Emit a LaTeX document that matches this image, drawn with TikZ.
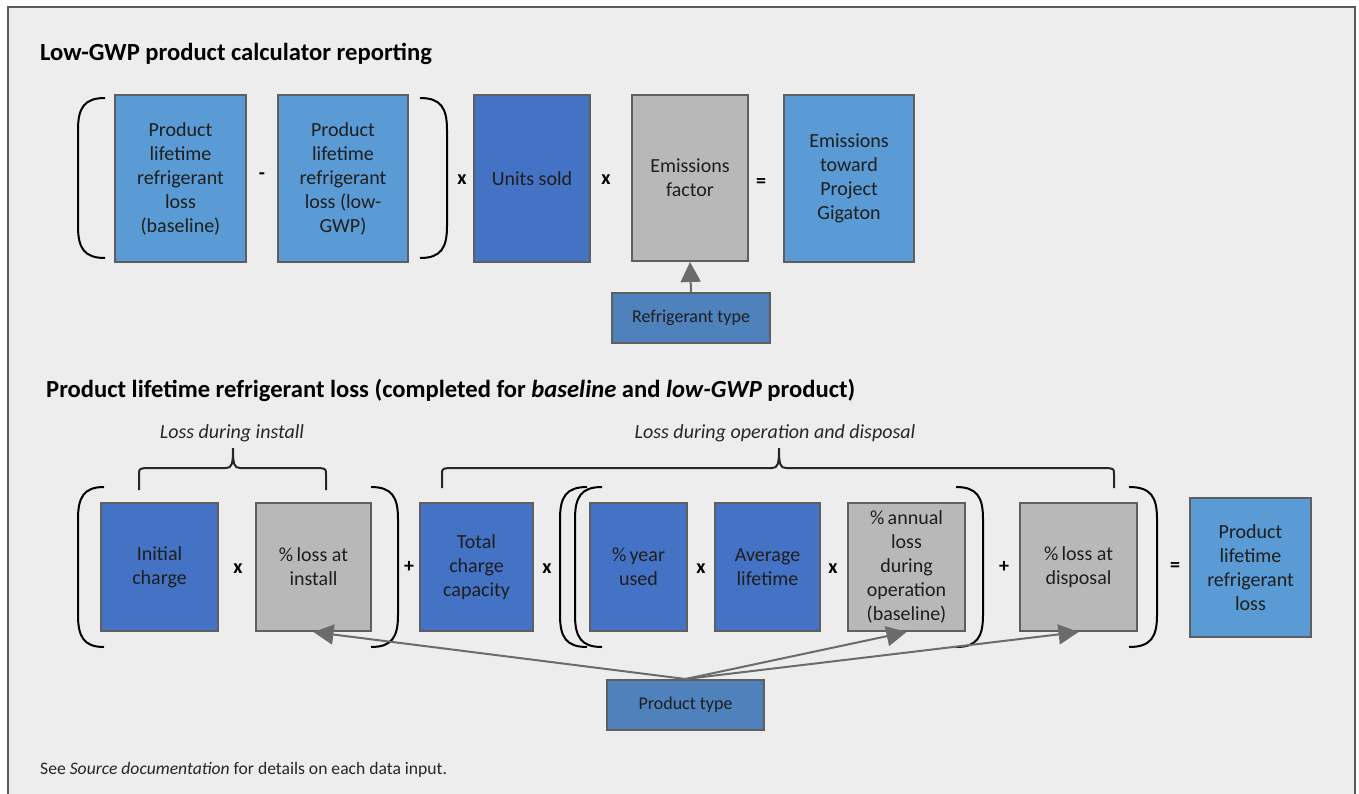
\documentclass[tikz,border=0pt]{standalone}
\usepackage{fontspec}
\setmainfont{Carlito}
\usetikzlibrary{arrows.meta,calc}
\definecolor{frameFill}{HTML}{EDEDED}
\definecolor{frameLine}{HTML}{5A5A5A}
\definecolor{lightBlue}{HTML}{5B9BD5}
\definecolor{darkBlue}{HTML}{4472C4}
\definecolor{midBlue}{HTML}{4F81BD}
\definecolor{boxGray}{HTML}{B8B8B8}
\definecolor{boxLine}{HTML}{5F5F5F}
\definecolor{arrGray}{HTML}{6B6B6B}
\definecolor{txt}{HTML}{1E1E1E}
\tikzset{
  box/.style={draw=boxLine, line width=2pt, align=center, inner sep=0pt, text=txt,
    font=\fontsize{20}{24}\selectfont},
  lb/.style={box, fill=lightBlue},
  db/.style={box, fill=darkBlue},
  gb/.style={box, fill=boxGray},
  ib/.style={box, fill=midBlue, minimum width=157pt, minimum height=50pt,
    font=\fontsize{18}{21}\selectfont},
  op/.style={font=\bfseries\fontsize{20}{24}\selectfont, inner sep=0pt},
  paren/.style={draw=black, line width=2pt},
  brace/.style={draw=black!85, line width=2pt},
  arr/.style={draw=arrGray, line width=2pt, -{Triangle[length=20pt,width=20pt]}},
  ttl/.style={font=\bfseries\fontsize{24.6}{29}\selectfont, anchor=west, inner sep=0pt},
  lbl/.style={font=\itshape\fontsize{20}{24}\selectfont, inner sep=0pt, text=black!85}
}
\newcommand\openparen[4]{% extreme x, tip x, top y, bottom y
  \draw[paren] (#2,#3) .. controls (#1+6,#3) and (#1,#3+10) .. (#1,#3+32) -- (#1,#4-32)
    .. controls (#1,#4-10) and (#1+6,#4) .. (#2,#4);}
\newcommand\closeparen[4]{% extreme x, tip x, top y, bottom y
  \draw[paren] (#2,#3) .. controls (#1-6,#3) and (#1,#3+10) .. (#1,#3+32) -- (#1,#4-32)
    .. controls (#1,#4-10) and (#1-6,#4) .. (#2,#4);}
\newcommand\topbrace[5]{% left x, tip x, right x, bar y, end y
  \draw[brace] (#1,#5) -- (#1,#4+7) .. controls (#1,#4+1) .. (#1+6,#4) -- (#2-7,#4)
    .. controls (#2-1,#4) and (#2,#4-4) .. (#2,#4-20)
    .. controls (#2,#4-4) and (#2+1,#4) .. (#2+7,#4) -- (#3-6,#4)
    .. controls (#3,#4+1) .. (#3,#4+7) -- (#3,#5);}
\begin{document}
\begin{tikzpicture}[x=1pt,y=-1pt]
\useasboundingbox (0,0) rectangle (1359,793);
\fill[white] (0,0) rectangle (1359,793);
\draw[frameLine, fill=frameFill, line width=2.5pt] (8,7) rectangle (1355,820);

% ---------- top section ----------
\node[ttl] (t1) at (40,54) {Low-GWP product calculator reporting};

\node[lb, minimum width=131pt, minimum height=167pt] (b1) at (180.5,178.5)
  {Product\\lifetime\\refrigerant\\loss\\(baseline)};
\node[lb, minimum width=130pt, minimum height=167pt] (b2) at (343,178.5)
  {Product\\lifetime\\refrigerant\\loss (low-\\GWP)};
\node[db, minimum width=116pt, minimum height=167pt] (us) at (532,178.5) {Units sold};
\node[gb, minimum width=116pt, minimum height=166pt] (ef) at (690,178) {Emissions\\factor};
\node[lb, minimum width=130pt, minimum height=167pt] (et) at (849,178.5)
  {Emissions\\toward\\Project\\Gigaton};
\node[ib, minimum width=158pt] (rt) at (691,318) {Refrigerant type};

\node[op] (o1) at (262,176) {-};
\node[op] (o2) at (462,180) {x};
\node[op] (o3) at (606,180) {x};
\node[op] (o4) at (761,183) {=};

\openparen{78}{105}{98}{258}
\closeparen{447}{420}{98}{258}

\draw[arr] (rt.north) -- (ef.south);

% ---------- bottom section ----------
\node[ttl] (t2) at (46,390) {Product lifetime refrigerant loss (completed for \textit{baseline} and \textit{low-GWP} product)};

\node[lbl] (l1) at (232,433) {Loss during install};
\node[lbl] (l2) at (775,433) {Loss during operation and disposal};

\topbrace{139}{233}{326}{468}{490}
\topbrace{442}{779}{1114}{468}{488}

\node[db, minimum width=117pt, minimum height=128pt] (ic) at (159.5,567) {Initial\\charge};
\node[gb, minimum width=115pt, minimum height=128pt] (li) at (313.5,567) {\%\,loss at\\install};
\node[db, minimum width=113pt, minimum height=128pt] (tc) at (476.5,567) {Total\\charge\\capacity};
\node[db, minimum width=97pt, minimum height=128pt] (yu) at (638.5,567) {\%\,year\\used};
\node[db, minimum width=105pt, minimum height=128pt] (al) at (767.5,567) {Average\\lifetime};
\node[gb, minimum width=117pt, minimum height=128pt] (an) at (906.5,567)
  {\%\,annual\\loss\\during\\operation\\(baseline)};
\node[gb, minimum width=117pt, minimum height=128pt] (ld) at (1078.5,567) {\%\,loss at\\disposal};
\node[lb, minimum width=121pt, minimum height=139pt] (pl) at (1250.5,567.5)
  {Product\\lifetime\\refrigerant\\loss};
\node[ib] (pt) at (685.5,705) {Product type};

\node[op] (p1) at (238,569) {x};
\node[op] (p2) at (409,567) {+};
\node[op] (p3) at (547,569) {x};
\node[op] (p4) at (701,569) {x};
\node[op] (p5) at (833,569) {x};
\node[op] (p6) at (1004,567) {+};
\node[op] (p7) at (1175,567) {=};

\openparen{78}{104}{487}{647}
\closeparen{398}{371}{487}{647}
\openparen{560}{587}{487}{647}
\openparen{575}{602}{487}{647}
\closeparen{983}{956}{487}{647}
\closeparen{1157}{1129}{487}{647}

\draw[arr] (pt.north) -- (li.south);
\draw[arr] (pt.north) -- (an.south);
\draw[arr] (pt.north) -- (ld.south);

\node[anchor=west, inner sep=0pt, font=\fontsize{17.6}{21}\selectfont, text=black!85] (ft) at (40,770)
  {See \textit{Source documentation} for details on each data input.};
\end{tikzpicture}
\end{document}
